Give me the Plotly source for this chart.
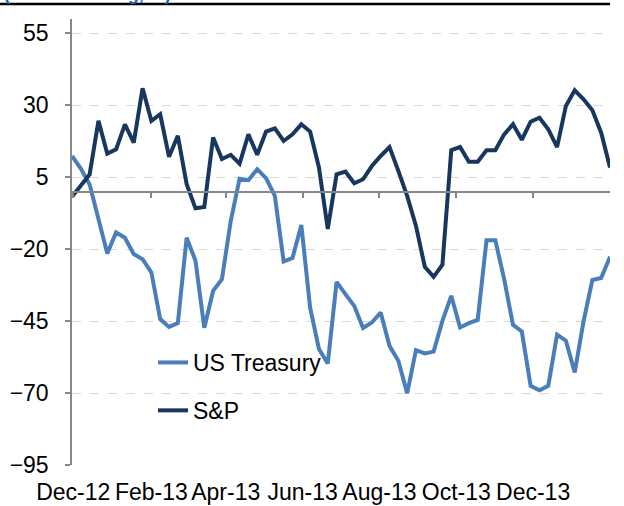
import pandas as pd
import plotly.graph_objects as go

# weekly observations, Dec-12 to Jan-14
dates = pd.date_range("2012-11-30", periods=62, freq="7D")

us_treasury = [12.4, 8.0, 2.5, -10.0, -21.5, -14.2, -16.0, -21.7, -23.5, -28.1,
               -44.3, -47.0, -45.7, -16.0, -24.0, -47.3, -34.5, -30.4, -10.2, 4.5,
               4.0, 7.8, 4.7, -1.5, -24.3, -23.1, -11.6, -40.3, -54.7, -59.7,
               -31.4, -35.6, -39.7, -47.4, -45.5, -42.0, -53.6, -58.8, -70.1, -55.1,
               -56.2, -55.6, -44.9, -36.2, -47.2, -45.7, -44.6, -16.9, -16.9, -30.4,
               -46.3, -48.6, -67.5, -69.0, -67.5, -49.7, -51.8, -62.8, -45.1, -30.7,
               -30.0, -22.6]

sp = [-1.8, 2.0, 6.0, 24.6, 13.2, 14.7, 23.4, 17.0, 35.9, 24.6,
      26.9, 12.1, 19.4, 2.6, -5.8, -5.3, 18.8, 11.3, 12.8, 9.7,
      19.9, 12.8, 20.9, 22.0, 17.6, 19.9, 23.4, 20.9, 8.4, -13.0,
      6.0, 7.0, 2.9, 4.3, 8.9, 12.4, 15.5, 7.2, -1.5, -11.9,
      -26.1, -29.6, -25.4, 14.4, 15.5, 10.4, 10.4, 14.4, 14.4, 19.9,
      23.4, 18.0, 24.3, 25.7, 21.7, 15.5, 29.8, 35.2, 32.1, 28.3,
      20.5, 8.4]

y_ticks = [-95, -70, -45, -20, 5, 30, 55]
y_range = [-95, 60]

W, H = 624, 506
M_L, M_R, M_T, M_B = 72, 14, 19, 41
plot_h = H - M_T - M_B
plot_w = W - M_L - M_R

FONT = "Liberation Sans, Arial, sans-serif"
LIGHT_BLUE = "#4a7ebb"
NAVY = "#17375e"
AXIS_GREY = "#868686"


def py(px):
    # page pixel row -> paper y
    return 1 + (M_T - px) / plot_h


def px_x(px):
    return (px - M_L) / plot_w


fig = go.Figure()

fig.add_trace(go.Scatter(
    x=dates, y=us_treasury, name="US Treasury", mode="lines",
    line=dict(color=LIGHT_BLUE, width=4), legendgroup="a"
))
fig.add_trace(go.Scatter(
    x=dates, y=sp, name="S&P", mode="lines",
    line=dict(color=NAVY, width=4), legendgroup="b"
))
# dummy trace so the zero-crossing axis gets drawn
fig.add_trace(go.Scatter(
    x=[dates[0]], y=[None], xaxis="x2", showlegend=False, hoverinfo="skip"
))

x_range = [dates[0], dates[-1]]
zero_pos = (0 - y_range[0]) / (y_range[1] - y_range[0])

fig.update_layout(
    width=W, height=H,
    margin=dict(l=M_L, r=M_R, t=M_T, b=M_B, autoexpand=False),
    paper_bgcolor="white", plot_bgcolor="white",
    font=dict(family=FONT, color="black", size=23),
    xaxis=dict(
        range=x_range, showgrid=False, showline=False, zeroline=False,
        ticks="", tickformat="%b-%y", dtick="M2", tick0="2012-12-01",
        tickangle=0, tickfont=dict(size=23), ticklabelstandoff=11,
        automargin=False
    ),
    xaxis2=dict(
        range=x_range, overlaying="x", anchor="free", position=zero_pos,
        showline=True, linecolor=AXIS_GREY, linewidth=1.5,
        ticks="outside", ticklen=6, tickcolor=AXIS_GREY, tickwidth=1.5,
        dtick="M2", tick0="2012-12-01", showticklabels=False, showgrid=False,
        automargin=False
    ),
    yaxis=dict(
        range=y_range, tickvals=y_ticks, zeroline=False,
        showgrid=True, gridcolor="#d9d9d9", griddash="dash", gridwidth=1,
        showline=True, linecolor=AXIS_GREY, linewidth=1.5,
        ticks="outside", ticklen=5, tickcolor=AXIS_GREY, tickwidth=1.5,
        tickfont=dict(size=23), ticklabelstandoff=12, automargin=False
    ),
    legend=dict(
        x=px_x(153), y=py(341), xanchor="left", yanchor="top",
        bgcolor="rgba(0,0,0,0)", font=dict(size=23),
        traceorder="grouped", tracegroupgap=15
    ),
    showlegend=True,
)

# clipped heading strip and rule at the top of the page
fig.add_annotation(
    text="<b>(Total flows avg, %)</b>", xref="paper", yref="paper",
    x=px_x(2), y=py(6), xanchor="left", yanchor="bottom",
    showarrow=False, font=dict(size=18, color="#1a5fb4")
)
fig.add_shape(
    type="line", xref="paper", yref="paper",
    x0=px_x(0), x1=px_x(610), y0=py(4), y1=py(4),
    line=dict(color="black", width=2.5)
)

# figure sits flush with the page corner, no toolbar
fig.write_html("out.html", config={"displayModeBar": False},
               post_script="document.body.style.margin='0';")
